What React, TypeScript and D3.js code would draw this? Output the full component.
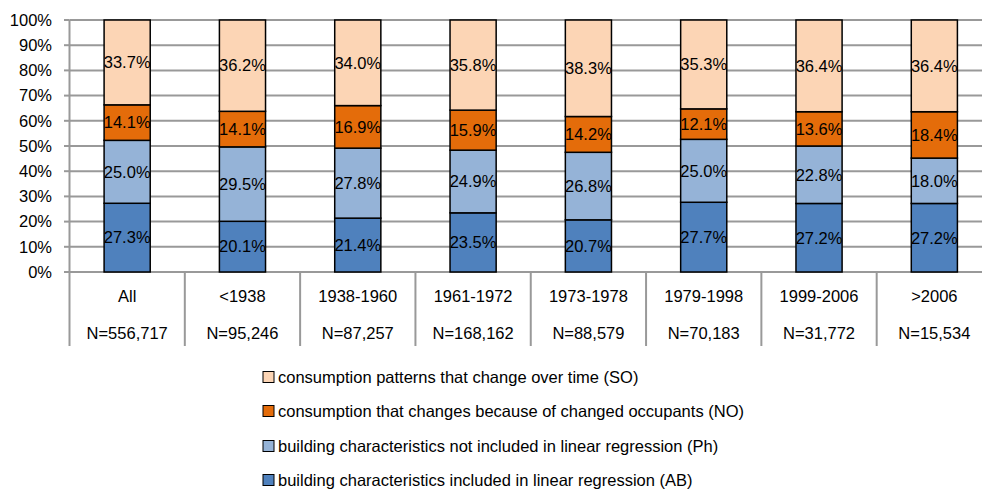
import React from 'react';
import * as d3 from 'd3';

const categories = ['All', '<1938', '1938-1960', '1961-1972', '1973-1978', '1979-1998', '1999-2006', '>2006'];
const sampleSizes = ['N=556,717', 'N=95,246', 'N=87,257', 'N=168,162', 'N=88,579', 'N=70,183', 'N=31,772', 'N=15,534'];

// series, bottom to top
const seriesAB = [27.3, 20.1, 21.4, 23.5, 20.7, 27.7, 27.2, 27.2];
const seriesPh = [25.0, 29.5, 27.8, 24.9, 26.8, 25.0, 22.8, 18.0];
const seriesNO = [14.1, 14.1, 16.9, 15.9, 14.2, 12.1, 13.6, 18.4];
const seriesSO = [33.7, 36.2, 34.0, 35.8, 38.3, 35.3, 36.4, 36.4];

const seriesNames = [
  'building characteristics included in linear regression (AB)',
  'building characteristics not included in linear regression (Ph)',
  'consumption that changes because of changed occupants (NO)',
  'consumption patterns that change over time (SO)',
];
const seriesColors = ['#4F81BD', '#95B3D7', '#E46C0A', '#FCD5B5'];
const yTicks = [0, 0.1, 0.2, 0.3, 0.4, 0.5, 0.6, 0.7, 0.8, 0.9, 1];

const W = 982;
const H = 497;
const FONT = '"Liberation Sans", Arial, sans-serif';
const FS = 16.5;

export default function App() {
  const left = 69.5;
  const top = 20;
  const bottom = 272;

  const x = d3.scaleBand<string>().domain(categories).range([left, 992]).paddingInner(0).paddingOuter(0);
  const y = d3.scaleLinear().domain([0, 1]).range([bottom, top]);
  const barW = x.bandwidth() * 0.4;

  const allSeries = [seriesAB, seriesPh, seriesNO, seriesSO];
  const rows = categories.map((c, i) => {
    const r: any = { cat: c };
    allSeries.forEach((s, k) => (r['s' + k] = s[i]));
    return r;
  });
  const keys = ['s0', 's1', 's2', 's3'];
  const stacked = d3.stack().keys(keys).offset(d3.stackOffsetExpand)(rows);

  const legendOrder = [3, 2, 1, 0];
  const legendY = [377, 411, 446, 480];

  return (
    <svg width={W} height={H} style={{ position: 'absolute', left: 0, top: 0, fontFamily: FONT }}>
      <rect width={W} height={H} fill="#fff" />
      {/* gridlines */}
      {yTicks.map((t) => (
        <g key={t}>
          <line x1={left} x2={W} y1={y(t)} y2={y(t)} stroke="#999" strokeWidth={2} />
          <line x1={64} x2={left} y1={y(t)} y2={y(t)} stroke="#999" strokeWidth={2} />
          <text x={52} y={y(t)} dy="0.35em" textAnchor="end" fontSize={FS} fill="#000">
            {Math.round(t * 100)}%
          </text>
        </g>
      ))}
      {/* y axis */}
      <line x1={left} x2={left} y1={top} y2={bottom} stroke="#999" strokeWidth={2} />
      {/* category separators */}
      {categories.map((c) => (
        <line key={c} x1={x(c)!} x2={x(c)!} y1={bottom} y2={346} stroke="#999" strokeWidth={2} />
      ))}
      {/* bars */}
      {stacked.map((layer, k) => (
        <g key={layer.key}>
          {layer.map((d, i) => {
            const cx = x(categories[i])! + x.bandwidth() / 2;
            const y0 = y(d[0]);
            const y1 = y(d[1]);
            return (
              <g key={i}>
                <rect x={cx - barW / 2} y={y1} width={barW} height={y0 - y1} fill={seriesColors[k]} stroke="#000" strokeWidth={1.5} />
                <text x={cx} y={(y0 + y1) / 2} dy="0.35em" textAnchor="middle" fontSize={FS} fill="#000">
                  {allSeries[k][i].toFixed(1)}%
                </text>
              </g>
            );
          })}
        </g>
      ))}
      {/* category labels */}
      {categories.map((c, i) => {
        const cx = x(c)! + x.bandwidth() / 2;
        return (
          <g key={c}>
            <text x={cx} y={296} dy="0.35em" textAnchor="middle" fontSize={FS} fill="#000">{c}</text>
            <text x={cx} y={333} dy="0.35em" textAnchor="middle" fontSize={FS} fill="#000">{sampleSizes[i]}</text>
          </g>
        );
      })}
      {/* legend */}
      {legendOrder.map((k, j) => (
        <g key={k}>
          <rect x={263} y={legendY[j] - 5.5} width={11} height={11} fill={seriesColors[k]} stroke="#000" strokeWidth={1} />
          <text x={278} y={legendY[j]} dy="0.35em" fontSize={FS} fill="#000">{seriesNames[k]}</text>
        </g>
      ))}
    </svg>
  );
}
